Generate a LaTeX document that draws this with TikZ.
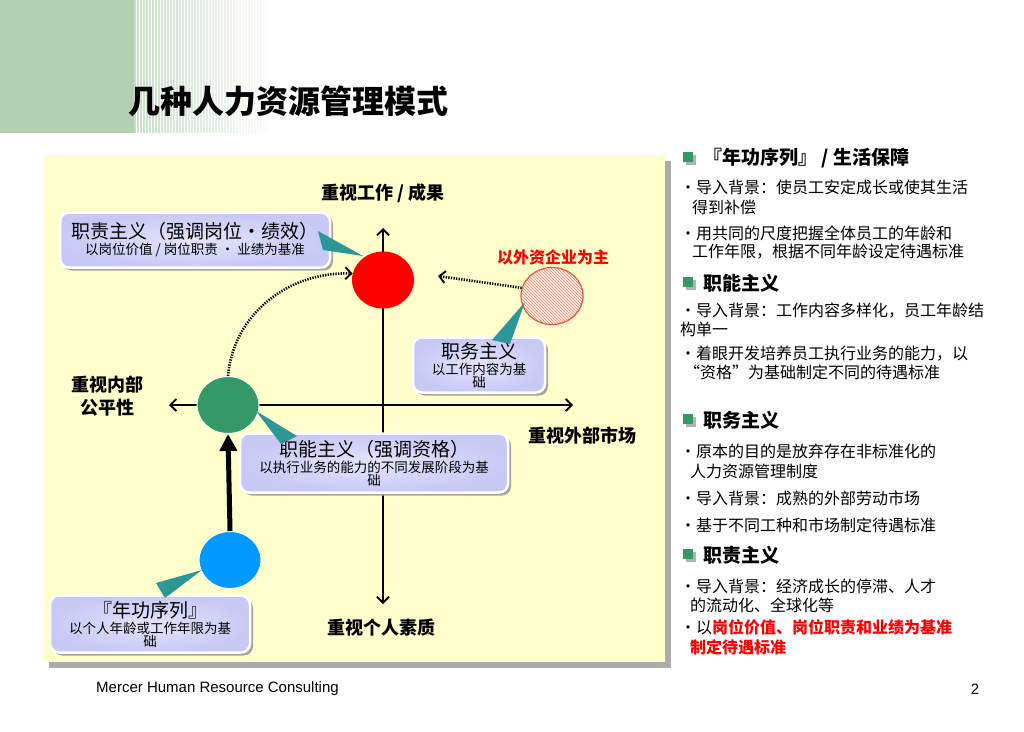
\documentclass[tikz,border=0pt]{standalone}
\usepackage{fontspec}
\setmainfont{Noto Sans CJK SC}
\newfontfamily\footfont{Liberation Sans}
\usepackage{xcolor}
\usetikzlibrary{arrows.meta,shapes.geometric,patterns,shadows,positioning}

\definecolor{chartbg}{RGB}{255,255,204}
\definecolor{slidegreen}{RGB}{178,208,178}
\definecolor{stripegreen}{RGB}{196,222,196}
\definecolor{dotgreen}{RGB}{51,153,102}
\definecolor{dotblue}{RGB}{0,153,255}
\definecolor{callfill}{RGB}{200,200,245}
\definecolor{callinner}{RGB}{228,228,255}
\definecolor{wedge}{RGB}{45,150,150}
\definecolor{hatchred}{RGB}{240,80,60}

\newcommand{\calltitle}{\fontsize{19}{21}\selectfont}
\newcommand{\callsub}{\fontsize{13.5}{16}\selectfont}

\begin{document}
\begin{tikzpicture}[x=1pt,y=-1pt,
  axis/.style={line width=2.2pt, {Straight Barb[length=6pt,width=12pt,line width=1.8pt]}-{Straight Barb[length=6pt,width=12pt,line width=1.8pt]}},
  axislabel/.style={font=\fontsize{18}{20}\selectfont\bfseries},
  dot/.style={ellipse, minimum width=62pt, minimum height=57pt, inner sep=0pt},
  callout/.style={draw=white, line width=2.5pt, inner color=callinner, outer color=callfill, rounded corners=9pt, align=center,
    drop shadow={shadow xshift=3pt, shadow yshift=-3pt, fill=black!35, opacity=1},
    font=\callsub},
  dotline/.style={line width=2.6pt, dash pattern=on 1.3pt off 1.3pt, -{Straight Barb[length=6pt,width=12pt,line width=1.8pt]}},
  bodytext/.style={anchor=west, inner sep=0pt, font=\fontsize{16}{18}\selectfont},
  headtext/.style={anchor=west, inner sep=0pt, font=\fontsize{19}{21}\selectfont\bfseries}
]
  \useasboundingbox (0,0) rectangle (1024,731);
  \fill[white] (0,0) rectangle (1024,731);

  % slide decoration and title
  \fill[slidegreen] (0,0) rectangle (134,133);
  \foreach \i [evaluate=\i as \op using 0.95-\i/50] in {0,...,44}
    \draw[stripegreen, line width=1.1pt, draw opacity=\op] (135+3*\i,0) -- (135+3*\i,133);
  \node[anchor=west, inner sep=0pt, font=\fontsize{32}{36}\selectfont\bfseries] (title) at (128,101) {几种人力资源管理模式};

  % chart panel
  \fill[black!33] (49,161) rectangle (671,668);
  \fill[chartbg] (43,155) rectangle (665,662);

  % axes
  \coordinate (axtop) at (383,228);
  \coordinate (axbot) at (383,604);
  \coordinate (axleft) at (169,405);
  \coordinate (axright) at (573,405);
  \draw[axis] (axtop) -- (axbot);
  \draw[axis] (axleft) -- (axright);

  \node[axislabel] (uplabel) at (383,193) {重视工作 / 成果};
  \node[axislabel] (downlabel) at (381,628) {重视个人素质};
  \node[axislabel, align=center] (leftlabel) at (107,396) {重视内部\\[3pt]公平性};
  \node[axislabel] (rightlabel) at (582,436) {重视外部市场};
  \node[font=\fontsize{16}{18}\selectfont\bfseries, text=red] (foreignlabel) at (553,257) {以外资企业为主};

  % circles
  \node[dot, fill=red] (duty) at (383,280) {};
  \node[dot, draw=hatchred, line width=1.2pt, preaction={fill=orange!12}, pattern=north west lines, pattern color=hatchred!70] (post) at (552,296) {};
  \node[dot, fill=dotgreen, draw=white, line width=1pt] (skill) at (228,405) {};
  \node[dot, fill=dotblue, draw=white, line width=1pt] (senior) at (230,560) {};

  % moves between the modes
  \coordinate (postend) at (438,276);
  \draw[dotline] (post.165) -- (postend);
  \draw[dotline] (skill.north) to[out=85,in=178] (duty.168);
  \draw[line width=5pt, -{Triangle[length=17pt,width=17pt]}] (senior.north) -- (skill.south);

  % call-out boxes
  \node[callout, minimum width=270pt, minimum height=55pt] (dutybox) at (195,240)
    {{\calltitle 职责主义（强调岗位·绩效）}\\{以岗位价值 / 岗位职责 · 业绩为基准}};
  \node[callout, minimum width=132pt, minimum height=55pt] (postbox) at (479,365)
    {{\calltitle 职务主义}\\{以工作内容为基}\\[-3pt]{础}};
  \node[callout, minimum width=268pt, minimum height=59pt] (skillbox) at (374,463)
    {{\calltitle 职能主义（强调资格）}\\{以执行业务的能力的不同发展阶段为基}\\[-3pt]{础}};
  \node[callout, minimum width=200pt, minimum height=57pt] (seniorbox) at (150,624)
    {{\calltitle 『年功序列』}\\{以个人年龄或工作年限为基}\\[-3pt]{础}};

  % call-out pointers
  \fill[wedge] (318,231) -- (323,250) -- (363,256) -- cycle;
  \fill[wedge] (492,340) -- (510,344) -- (525,302) -- cycle;
  \fill[wedge] (256,411) -- (281,444) -- (297,436) -- cycle;
  \fill[wedge] (202,570) -- (156,583) -- (165,598) -- cycle;

  % right hand notes
  \foreach \hy/\htxt [count=\k] in {158/{『年功序列』 / 生活保障}, 283/职能主义, 420/职务主义, 555/职责主义}{
    \fill[black!30] (686,\hy-3) rectangle (696,\hy+7);
    \fill[dotgreen] (683,\hy-6) rectangle (693,\hy+4);
    \node[headtext] (head\k) at (703,\hy) {\htxt};
  }
  \foreach \ly/\lx/\ltxt [count=\k] in {
      187/680/{·导入背景：使员工安定成长或使其生活},
      207/692/{得到补偿},
      233/680/{·用共同的尺度把握全体员工的年龄和},
      252/692/{工作年限，根据不同年龄设定待遇标准},
      311/680/{·导入背景：工作内容多样化，员工年龄结},
      329/680/{构单一},
      354/680/{·着眼开发培养员工执行业务的能力，以},
      372/684/{“资格”为基础制定不同的待遇标准},
      451/680/{·原本的目的是放弃存在非标准化的},
      471/690/{人力资源管理制度},
      498/680/{·导入背景：成熟的外部劳动市场},
      525/680/{·基于不同工种和市场制定待遇标准},
      586/680/{·导入背景：经济成长的停滞、人才},
      605/690/{的流动化、全球化等},
      627/680/{·以{\color{red}\bfseries 岗位价值、岗位职责和业绩为基准}},
      647/690/{{\color{red}\bfseries 制定待遇标准}}}
    \node[bodytext] (note\k) at (\lx,\ly) {\ltxt};

  % footer
  \node[anchor=west, inner sep=0pt, font=\footfont\fontsize{15}{17}\selectfont] (footer) at (96,689) {Mercer Human Resource Consulting};
  \node[inner sep=0pt, font=\footfont\fontsize{15}{17}\selectfont] (pagenum) at (975,689) {2};
\end{tikzpicture}
\end{document}
